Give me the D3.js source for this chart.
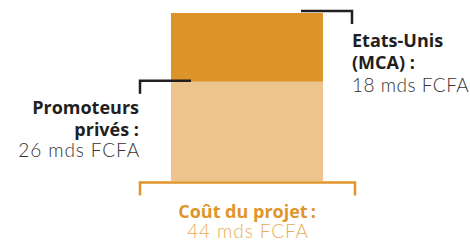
<!DOCTYPE html>
<html>
<head>
<meta charset="utf-8">
<script src="https://cdn.jsdelivr.net/npm/d3@7"></script>
<style>
body { margin: 0; background: #fff; }
text { font-family: "Open Sans", "Lato", sans-serif; }
.val { font-family: "Lato", "Open Sans", sans-serif; font-weight: 300; font-size: 19px; letter-spacing: 0.9px; }
</style>
</head>
<body>
<div id="chart"></div>
<script>
var width = 470;
var height = 241;

// financement du projet (mds FCFA)
var sources = ["Promoteurs privés", "Etats-Unis (MCA)"];
var values = [26, 18];
var colors = ["#edc48b", "#dc9327"];
var labelLines = [["Promoteurs", "privés :"], ["Etats-Unis", "(MCA) :"]];
var total = d3.sum(values);
var unit = "mds FCFA";

var svg = d3.select("#chart").append("svg")
	.attr("width", width)
	.attr("height", height);

var y = d3.scaleLinear()
	.domain([0, total])
	.range([181, 13]);

var barX = 171, barW = 152;
var fs = "18px";

// stacked segments
var stacked = [];
var acc = 0;
for (var i = 0; i < values.length; i++) {
	stacked.push({ name: sources[i], y0: acc, y1: acc + values[i], color: colors[i], lines: labelLines[i], value: values[i] });
	acc += values[i];
}

svg.selectAll("rect.seg")
	.data(stacked)
	.enter()
	.append("rect")
	.attr("class", "seg")
	.attr("x", barX)
	.attr("width", barW)
	.attr("y", d => y(d.y1))
	.attr("height", d => y(d.y0) - y(d.y1))
	.attr("fill", d => d.color);

var dark = "#231f20";
var grey = "#333";

// leader for the bottom segment (left side)
var s0 = stacked[0];
var ly = y(s0.y1) - 1;
svg.append("path")
	.attr("d", "M191," + ly + "H140V" + (ly + 13))
	.attr("fill", "none")
	.attr("stroke", dark)
	.attr("stroke-width", 2.5);

s0.lines.forEach(function(l, k) {
	svg.append("text")
		.attr("x", 139)
		.attr("y", 114 + k * 21.5)
		.attr("text-anchor", "end")
		.attr("fill", dark)
		.style("font-size", fs)
		.style("font-weight", "bold")
		.text(l);
});
svg.append("text")
	.attr("class", "val")
	.attr("x", 140)
	.attr("y", 157)
	.attr("text-anchor", "end")
	.attr("fill", grey)
	.text(s0.value + " " + unit);

// leader for the top segment (right side)
var s1 = stacked[1];
var ry = y(s1.y1) - 2;
svg.append("path")
	.attr("d", "M301," + ry + "H352V" + (ry + 13))
	.attr("fill", "none")
	.attr("stroke", dark)
	.attr("stroke-width", 2.5);

s1.lines.forEach(function(l, k) {
	svg.append("text")
		.attr("x", 352)
		.attr("y", 47 + k * 22)
		.attr("fill", dark)
		.style("font-size", fs)
		.style("font-weight", "bold")
		.text(l);
});
svg.append("text")
	.attr("class", "val")
	.attr("x", 352)
	.attr("y", 92)
	.attr("fill", grey)
	.style("letter-spacing", "0.5px")
	.text(s1.value + " " + unit);

// total bracket
var orange = "#e0952a";
var by = y(0) + 1.5;
svg.append("path")
	.attr("d", "M140," + (by + 13) + "V" + by + "H355V" + (by + 13))
	.attr("fill", "none")
	.attr("stroke", orange)
	.attr("stroke-width", 2.5);

svg.append("text")
	.attr("x", 247)
	.attr("y", 218)
	.attr("text-anchor", "middle")
	.attr("fill", orange)
	.style("font-size", fs)
	.style("font-weight", "bold")
	.text("Coût du projet\u2009:");

svg.append("text")
	.attr("class", "val")
	.attr("x", 248)
	.attr("y", 238)
	.attr("text-anchor", "middle")
	.attr("fill", "#e9ac58")
	.text(total + " " + unit);
</script>
</body>
</html>
